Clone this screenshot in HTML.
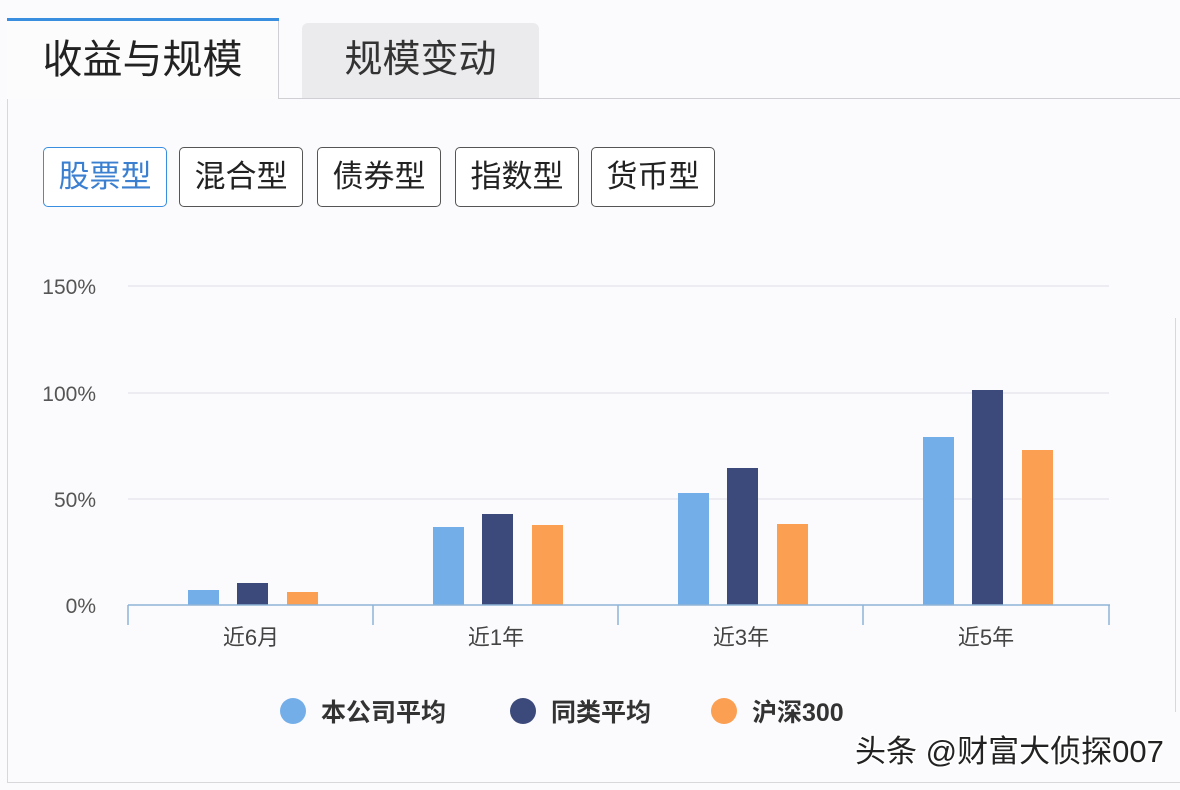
<!DOCTYPE html>
<html><head><meta charset="utf-8"><style>
body{margin:0;width:1180px;height:790px;background:#fbfbfd;position:relative;overflow:hidden;font-family:"Liberation Sans","Noto Sans CJK SC",sans-serif;}
.a{position:absolute;}
.btn{position:absolute;top:147px;width:122px;height:58px;border:1px solid #555;border-radius:5px;font-size:31px;line-height:58px;text-align:center;color:#222;background:#fff;}
</style></head><body>
<div class="a" style="left:7px;top:19px;width:1px;height:764px;background:#d8d8dc"></div>
<div class="a" style="left:7px;top:782px;width:1173px;height:1px;background:#d8d8dc"></div>
<div class="a" style="left:7px;top:18px;width:272px;height:3px;background:#3a8ee0"></div>
<div class="a" style="left:278px;top:21px;width:1px;height:78px;background:#d0d0d4"></div>
<div class="a" style="left:279px;top:98px;width:901px;height:1px;background:#d0d0d4"></div>
<div class="a" style="left:7px;top:21px;width:271px;height:78px;background:#fcfcfd;font-size:40px;line-height:78px;text-align:center;color:#222">收益与规模</div>
<div class="a" style="left:302px;top:23px;width:237px;height:75px;background:#ebebee;border-radius:6px 6px 0 0;font-size:38px;line-height:75px;text-align:center;color:#333">规模变动</div>
<div class="btn" style="left:43px;border-color:#3a8ee0;color:#3a7fd0">股票型</div>
<div class="btn" style="left:179px">混合型</div>
<div class="btn" style="left:317px">债券型</div>
<div class="btn" style="left:455px">指数型</div>
<div class="btn" style="left:591px">货币型</div>
<div class="a" style="left:1175px;top:318px;width:1px;height:394px;background:#d8d8dc"></div>
<svg class="a" style="left:0;top:0" width="1180" height="790">
<g stroke="#dcdce6" stroke-width="1">
<line x1="128" y1="286" x2="1109" y2="286"/><line x1="128" y1="393" x2="1109" y2="393"/><line x1="128" y1="499" x2="1109" y2="499"/></g>
<g font-size="21" fill="#555" text-anchor="end" font-family="Liberation Sans,sans-serif">
<text x="96" y="294">150%</text><text x="96" y="401">100%</text><text x="96" y="507">50%</text><text x="96" y="613">0%</text></g>
<g fill="#74aee8"><rect x="188" y="590" width="31" height="15"/><rect x="433" y="527" width="31" height="78"/><rect x="678" y="493" width="31" height="112"/><rect x="923" y="437" width="31" height="168"/></g>
<g fill="#3b4a7a"><rect x="237" y="583" width="31" height="22"/><rect x="482" y="514" width="31" height="91"/><rect x="727" y="468" width="31" height="137"/><rect x="972" y="390" width="31" height="215"/></g>
<g fill="#fb9f52"><rect x="287" y="592" width="31" height="13"/><rect x="532" y="525" width="31" height="80"/><rect x="777" y="524" width="31" height="81"/><rect x="1022" y="450" width="31" height="155"/></g>
<g stroke="#8fb3d6" stroke-width="1.5"><line x1="128" y1="605" x2="1110" y2="605"/>
<line x1="128" y1="605" x2="128" y2="625"/><line x1="373" y1="605" x2="373" y2="625"/><line x1="618" y1="605" x2="618" y2="625"/><line x1="863" y1="605" x2="863" y2="625"/><line x1="1109" y1="605" x2="1109" y2="625"/></g>
<g font-size="22" fill="#444" text-anchor="middle" font-family="Liberation Sans,Noto Sans CJK SC,sans-serif">
<text x="251" y="645">近6月</text><text x="496" y="645">近1年</text><text x="741" y="645">近3年</text><text x="986" y="645">近5年</text></g>
<circle cx="293" cy="711" r="13" fill="#74aee8"/><circle cx="523" cy="711" r="13" fill="#3b4a7a"/><circle cx="724" cy="711" r="13" fill="#fb9f52"/>
<g font-size="25" font-weight="bold" fill="#333" font-family="Liberation Sans,Noto Sans CJK SC,sans-serif">
<text x="321" y="721">本公司平均</text><text x="551" y="721">同类平均</text><text x="752" y="721">沪深300</text></g>
<text x="855" y="762" font-size="31" fill="#222" stroke="#fff" stroke-width="3" paint-order="stroke" font-family="Liberation Sans,Noto Sans CJK SC,sans-serif">头条 @财富大侦探007</text>
</svg>
</body></html>
